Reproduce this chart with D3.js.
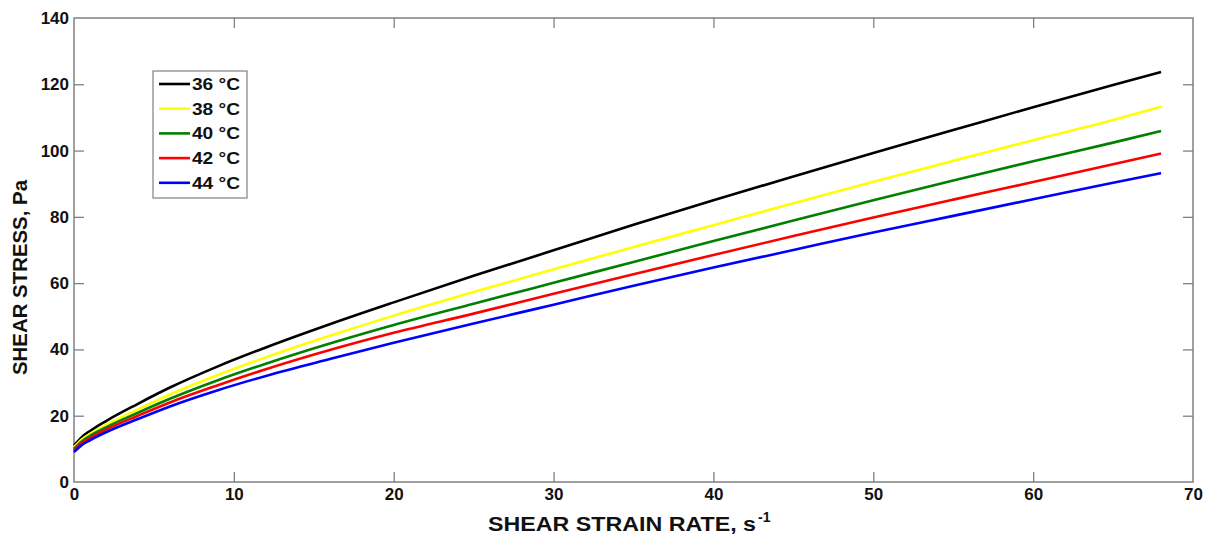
<!DOCTYPE html>
<html><head><meta charset="utf-8">
<script src="https://cdn.jsdelivr.net/npm/d3@7"></script>
<style>body{margin:0;background:#fff}svg{display:block}text{font-family:"Liberation Sans",Arial,sans-serif;font-weight:bold;fill:#111}</style>
</head><body><svg id="c" width="1211" height="538"></svg>
<script>
const strainRate = [0, 0.5, 1, 2, 4, 6, 9, 12, 16, 20, 25, 30, 35, 40, 45, 50, 55, 60, 65, 68];
const stress36 = [11.0, 13.6, 15.4, 18.4, 23.6, 28.5, 34.9, 40.6, 47.6, 54.2, 62.2, 69.9, 77.6, 85.0, 92.2, 99.3, 106.2, 113.1, 119.8, 123.7];
const stress38 = [10.5, 12.9, 14.5, 17.2, 21.9, 26.4, 32.3, 37.6, 44.1, 50.2, 57.3, 64.2, 70.9, 77.5, 84.1, 90.6, 96.9, 103.1, 109.2, 113.2];
const stress40 = [10.0, 12.3, 13.9, 16.5, 20.9, 25.1, 30.7, 35.7, 41.8, 47.4, 53.8, 60.1, 66.4, 72.7, 78.9, 85.0, 91.0, 96.8, 102.4, 105.9];
const stress42 = [9.5, 11.8, 13.3, 15.8, 20.0, 24.0, 29.2, 34.0, 39.8, 45.0, 50.8, 56.8, 62.7, 68.5, 74.2, 79.8, 85.2, 90.5, 95.9, 99.1];
const stress44 = [9.0, 11.2, 12.6, 15.0, 19.0, 22.8, 27.7, 32.0, 37.1, 42.0, 47.8, 53.5, 59.2, 64.7, 70.0, 75.3, 80.3, 85.3, 90.3, 93.2];
const seriesNames = ["36 °C", "38 °C", "40 °C", "42 °C", "44 °C"];
const seriesColors = ["#000000", "#ffff00", "#008000", "#ff0000", "#0000ff"];
const xTicks = [0, 10, 20, 30, 40, 50, 60, 70];
const yTicks = [0, 20, 40, 60, 80, 100, 120, 140];
const xTitle = "SHEAR STRAIN RATE, s";
const yTitle = "SHEAR STRESS, Pa";

const allSeries = [stress36, stress38, stress40, stress42, stress44];
const svg = d3.select("#c");
const L = 74, R = 1193, T = 18, B = 482;
const x = d3.scaleLinear().domain([0, 70]).range([L, R]);
const y = d3.scaleLinear().domain([0, 140]).range([B, T]);
const axisColor = "#808080";
const tickLen = 10;

svg.append("rect").attr("x", L).attr("y", T).attr("width", R - L).attr("height", B - T)
  .attr("fill", "none").attr("stroke", axisColor).attr("stroke-width", 1.5);

function styleAxis(g){
  g.select(".domain").remove();
  g.selectAll(".tick line").attr("stroke", axisColor).attr("stroke-width", 1.3);
  g.selectAll("text").style("font-size", "17px").attr("fill", "#111");
}
const xb = svg.append("g").attr("transform", `translate(0,${B})`)
  .call(d3.axisBottom(x).tickValues(xTicks).tickSizeInner(-tickLen).tickSizeOuter(0).tickPadding(6).tickFormat(d3.format("d")));
styleAxis(xb);
xb.selectAll(".tick").filter(d => d === 0 || d === 70).select("line").remove();
const xt = svg.append("g").attr("transform", `translate(0,${T})`)
  .call(d3.axisTop(x).tickValues(xTicks.filter(d => d > 0 && d < 70)).tickSizeInner(-tickLen).tickSizeOuter(0).tickFormat(""));
styleAxis(xt);
const yl = svg.append("g").attr("transform", `translate(${L},0)`)
  .call(d3.axisLeft(y).tickValues(yTicks).tickSizeInner(-tickLen).tickSizeOuter(0).tickPadding(5).tickFormat(d3.format("d")));
styleAxis(yl);
yl.selectAll(".tick").filter(d => d === 0 || d === 140).select("line").remove();
const yr = svg.append("g").attr("transform", `translate(${R},0)`)
  .call(d3.axisRight(y).tickValues(yTicks.filter(d => d > 0 && d < 140)).tickSizeInner(-tickLen).tickSizeOuter(0).tickFormat(""));
styleAxis(yr);

const line = d3.line().x((d, i) => x(strainRate[i])).y(d => y(d)).curve(d3.curveMonotoneX);
allSeries.forEach((s, k) => {
  svg.append("path").datum(s).attr("d", line).attr("fill", "none")
    .attr("stroke", seriesColors[k]).attr("stroke-width", 2.6).attr("stroke-linejoin", "round");
});

svg.append("text").attr("x", 488).attr("y", 531).style("font-size", "20px")
  .attr("textLength", 268).attr("lengthAdjust", "spacingAndGlyphs").text(xTitle);
svg.append("text").attr("x", 758).attr("y", 522).style("font-size", "14px").text("-1");
svg.append("text").attr("transform", `translate(27,${(180+375)/2}) rotate(-90)`).attr("text-anchor", "middle")
  .style("font-size", "20px").attr("textLength", 195).attr("lengthAdjust", "spacingAndGlyphs").text(yTitle);

const lg = svg.append("g");
lg.append("rect").attr("x", 153).attr("y", 71).attr("width", 94).attr("height", 127)
  .attr("fill", "#fff").attr("stroke", axisColor).attr("stroke-width", 1.2);
seriesNames.forEach((n, k) => {
  const yy = 84 + k * 24.7;
  lg.append("line").attr("x1", 159).attr("x2", 190).attr("y1", yy).attr("y2", yy)
    .attr("stroke", seriesColors[k]).attr("stroke-width", 2.6);
  lg.append("text").attr("x", 192).attr("y", yy + 6).style("font-size", "16px")
    .attr("textLength", 48).attr("lengthAdjust", "spacingAndGlyphs").text(n);
});
</script></body></html>
